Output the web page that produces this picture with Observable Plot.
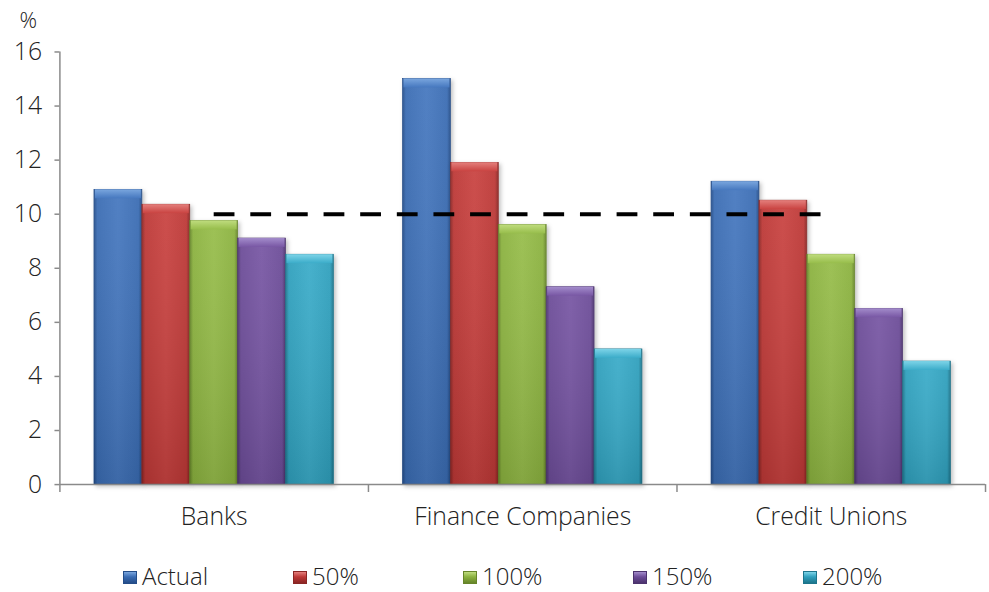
<!DOCTYPE html>
<html>
<head>
<meta charset="utf-8">
<script src="https://cdn.jsdelivr.net/npm/d3@7"></script>
<script src="https://cdn.jsdelivr.net/npm/@observablehq/plot@0.6"></script>
<style>
  html, body { margin: 0; padding: 0; background: #fff; overflow: hidden; width: 989px; height: 592px; }
  #chart { position: absolute; left: 0; top: 0; }
  #legend { position: absolute; left: 123px; top: 564px; display: flex; font-family: "Open Sans", sans-serif; font-weight: 300; font-size: 24px; color: #222; line-height: 24px; }
  .item { width: 170px; display: flex; align-items: flex-end; }
  .sw { width: 14px; height: 13px; margin-right: 5px; margin-bottom: 4px; box-sizing: border-box; }
  svg [aria-label="y-axis tick"] path, svg [aria-label="x-axis tick"] path { stroke: #8a8a8a; stroke-width: 1.5; }
  svg .main rect { filter: drop-shadow(2px 2px 2px rgba(0,0,0,0.25)); }
</style>
</head>
<body>
<div id="chart"></div>
<div id="legend"></div>
<script>
// ---- data ----
const categories = ["Banks", "Finance Companies", "Credit Unions"];
const series = ["Actual", "50%", "100%", "150%", "200%"];
const banks = [10.9, 10.35, 9.75, 9.1, 8.5];
const financeCompanies = [15.0, 11.9, 9.6, 7.3, 5.0];
const creditUnions = [11.2, 10.5, 8.5, 6.5, 4.55];
const yTicks = [0, 2, 4, 6, 8, 10, 12, 14, 16];
const threshold = 10;
const unitLabel = "%";

// ---- styles ----
const base = ["#3a6cb3", "#bd3836", "#8bb23f", "#6c4c98", "#2fa0bd"];
const dark = ["#244d89", "#8a2624", "#66852a", "#4c336e", "#1d758c"];
const light = ["#4678bf", "#c94341", "#97bd4b", "#7857a4", "#3bacc9"];
const topc = ["#7aa6de", "#e47f7c", "#bfdc7e", "#a38ccb", "#7dd4e8"];

const values = [banks, financeCompanies, creditUnions];
const rows = categories.flatMap((c, i) =>
  series.map((s, j) => ({category: c, series: s, value: values[i][j], gi: i, sj: j})));

const pad = 0.112;
const w = (1 - 2 * pad) / series.length;
const X1 = d => d.gi + pad + d.sj * w;
const X2 = d => d.gi + pad + (d.sj + 1) * w;

const marks = [];
series.forEach((s, j) => {
  const data = rows.filter(d => d.series === s);
  marks.push(Plot.rectY(data, {x1: X1, x2: X2, y1: 0, y2: "value", fill: `url(#g${j})`, stroke: dark[j], strokeWidth: 0.7, className: "main"}));
  marks.push(Plot.rectY(data, {x1: X1, x2: X2, y1: 0, y2: "value", fill: "url(#vshade)"}));
  marks.push(Plot.rectY(data, {x1: X1, x2: X2, y1: "value", y2: "value", insetBottom: -9, insetLeft: 1, insetRight: 1, fill: `url(#t${j})`}));
});

const chart = Plot.plot({
  width: 999,
  height: 548,
  marginLeft: 60,
  marginRight: 4,
  marginTop: 52,
  marginBottom: 59,
  style: {fontFamily: "'Open Sans', sans-serif", fontWeight: 300, fontSize: "25px", color: "#222", background: "#fff"},
  x: {domain: [0, categories.length], ticks: d3.range(categories.length + 1), tickFormat: () => "", tickSize: 8, label: null},
  y: {domain: [yTicks[0], yTicks[yTicks.length - 1]], ticks: yTicks, tickFormat: d3.format("d"), tickSize: 5, tickPadding: 13, label: null},
  marks: [
    ...marks,
    Plot.ruleY([threshold], {x1: categories.indexOf("Banks") + 0.5, x2: categories.indexOf("Credit Unions") + 0.5, stroke: "#000", strokeWidth: 4, strokeDasharray: "21,16"}),
    Plot.ruleX([0], {stroke: "#8a8a8a", strokeWidth: 1.5}),
    Plot.ruleY([0], {stroke: "#8a8a8a", strokeWidth: 1.5}),
    Plot.text(categories, {x: (d, i) => i + 0.5, y: 0, dy: 33, fontSize: 25, fill: "#222"}),
    Plot.text([unitLabel], {frameAnchor: "top-left", textAnchor: "middle", lineAnchor: "middle", dx: -32, dy: -31, fontSize: 22, fill: "#222"})
  ]
});

// gradient definitions
const defs = d3.select(chart).insert("defs", ":first-child");
base.forEach((b, j) => {
  const g = defs.append("linearGradient").attr("id", `g${j}`).attr("x1", 0).attr("x2", 1).attr("y1", 0).attr("y2", 0);
  [[0, dark[j]], [0.07, b], [0.5, light[j]], [0.93, b], [1, dark[j]]].forEach(([o, c]) =>
    g.append("stop").attr("offset", o).attr("stop-color", c));
  const t = defs.append("linearGradient").attr("id", `t${j}`).attr("x1", 0).attr("x2", 0).attr("y1", 0).attr("y2", 1);
  [[0, topc[j]], [1, light[j]]].forEach(([o, c]) => t.append("stop").attr("offset", o).attr("stop-color", c));
});
const v = defs.append("linearGradient").attr("id", "vshade").attr("x1", 0).attr("x2", 0).attr("y1", 0).attr("y2", 1);
v.append("stop").attr("offset", 0).attr("stop-color", "#fff").attr("stop-opacity", 0.06);
v.append("stop").attr("offset", 1).attr("stop-color", "#000").attr("stop-opacity", 0.12);

document.getElementById("chart").append(chart);

// legend
const legend = d3.select("#legend");
series.forEach((s, j) => {
  const it = legend.append("div").attr("class", "item");
  it.append("div").attr("class", "sw")
    .style("background", `linear-gradient(180deg, ${topc[j]} 0%, ${base[j]} 45%, ${dark[j]} 100%)`)
    .style("border", `1px solid ${dark[j]}`);
  it.append("span").text(s);
});
</script>
</body>
</html>
